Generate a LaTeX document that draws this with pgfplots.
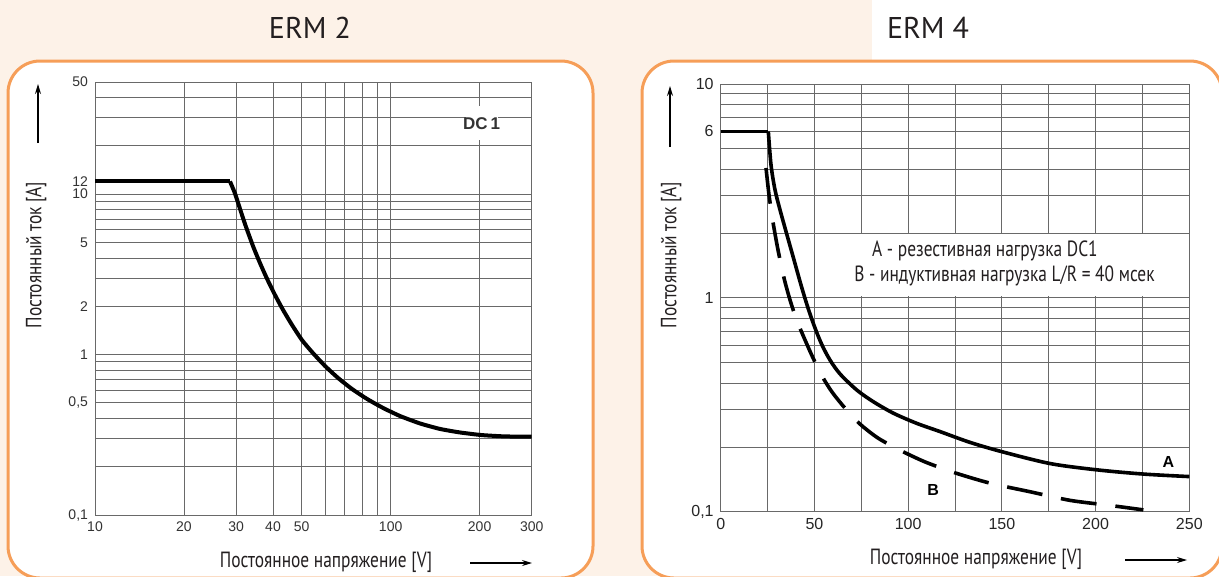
\documentclass[border=0pt]{standalone}
\usepackage{fontspec}
\setmainfont{Liberation Sans}
\newfontfamily\cond[FakeStretch=0.79]{PT Sans}
\newfontfamily\ptsans{PT Sans}
\usepackage{pgfplots}
\pgfplotsset{compat=1.18}
\usetikzlibrary{arrows.meta}
\definecolor{peach}{RGB}{253,242,232}
\definecolor{frameor}{RGB}{246,158,88}
\definecolor{gridc}{RGB}{105,105,105}
\definecolor{txt}{RGB}{35,31,32}

\pgfplotstableread{
x y
28.62 12
29.75 10.1
30.94 8.09
32.42 6.25
34.32 4.69
36.15 3.72
38.09 3.00
40.64 2.35
43.25 1.90
46.39 1.53
50.15 1.23
54.65 1.02
60.00 0.849
66.39 0.715
74.04 0.610
83.22 0.529
94.26 0.465
107.6 0.414
125.8 0.372
146.9 0.344
171.7 0.327
203.3 0.315
243.8 0.309
300 0.308
}\ermtwo

\pgfplotstableread{
x y
25.4 6
26.84 4.18
28.97 3.20
31.64 2.58
35.21 1.99
39.11 1.504
42.84 1.149
46.57 0.897
50.31 0.723
54.04 0.602
58.31 0.512
63.64 0.441
72.56 0.371
81.41 0.327
92.08 0.289
104.57 0.259
117.0 0.237
133.0 0.211
149.9 0.191
175.7 0.168
200.6 0.157
225.5 0.150
250 0.146
}\ermA

\pgfplotstableread{
x y
24.17 4.05
25.77 3.03
27.90 2.26
30.57 1.675
33.77 1.239
36.97 0.978
40.71 0.780
44.97 0.636
49.24 0.524
54.04 0.431
59.38 0.363
66.32 0.305
74.32 0.257
83.92 0.221
95.66 0.194
109.0 0.171
125.0 0.152
143.7 0.136
165.0 0.124
186.4 0.113
207.7 0.107
225.5 0.102
}\ermB

\pgfplotsset{
  ermstyle/.style={
    scale only axis,
    grid=major,
    major grid style={gridc, line width=0.45pt},
    axis line style={gridc, line width=0.5pt},
    major tick length=0pt,
    minor tick length=0pt,
    tick style={draw=none},
  }
}

\begin{document}
\begin{tikzpicture}
\begin{scope}[x=0.5pt,y=-0.5pt]
\path[use as bounding box] (0,0) rectangle (1219,576);
\clip (0,0) rectangle (1219,576);
\fill[white] (0,0) rectangle (1219,576);
\fill[peach] (0,0) rectangle (872,576);
\draw[frameor,line width=1.5pt,fill=white,rounded corners=16pt] (8,61) rectangle (593,578);
\draw[frameor,line width=1.5pt,fill=white,rounded corners=16pt] (642,61) rectangle (1222,578);
\node[font=\ptsans\fontsize{15}{18}\selectfont, text=txt] at (310,28) {ERM 2};
\node[font=\ptsans\fontsize{15}{18}\selectfont, text=txt] at (928,28) {ERM 4};
\end{scope}

% ---------- ERM 2 ----------
\begin{axis}[ermstyle,
  at={(47.5pt,-257.5pt)}, anchor=south west,
  width=218.35pt, height=216.5pt,
  xmode=log, ymode=log,
  xmin=10, xmax=300, ymin=0.1, ymax=50,
  xtick={10,20,30,40,50,60,70,80,90,100,200,300},
  xticklabels={10,20,30,40,50,{},{},{},{},100,200,300},
  ytick={0.1,0.2,0.3,0.4,0.5,0.6,0.7,0.8,0.9,1,2,3,4,5,6,7,8,9,10,20,30,40,50},
  yticklabels={{0,1},{},{},{},{0,5},{},{},{},{},1,2,{},{},5,{},{},{},{},10,{},{},{},50},
  extra y ticks={12}, extra y tick labels={12},
  extra y tick style={grid=none},
  tick label style={font=\fontsize{7}{8}\selectfont, text=black!80},
]
\fill[white] (axis cs:180,21.6) rectangle (axis cs:230,35.3);
\node[font=\bfseries\fontsize{8.5}{10}\selectfont, text=black!80] at (axis cs:203,27.6) {DC\,1};
\addplot[black, line width=2pt] coordinates {(10,12) (28.62,12)};
\addplot[black, line width=2pt, smooth, tension=0.35] table[x=x,y=y] {\ermtwo};
\end{axis}

% ---------- ERM 4 ----------
\begin{axis}[ermstyle,
  at={(360.35pt,-255.85pt)}, anchor=south west,
  width=234.3pt, height=213.85pt,
  ymode=log,
  xmin=0, xmax=250, ymin=0.1, ymax=10,
  xtick={0,25,50,75,100,125,150,175,200,225,250},
  xticklabels={0,{},50,{},100,{},150,{},200,{},250},
  ytick={0.1,0.2,0.3,0.4,0.5,0.6,0.7,0.8,0.9,1,2,3,4,5,6,7,8,9,10},
  yticklabels={{0,1},{},{},{},{},{},{},{},{},1,{},{},{},{},6,{},{},{},10},
  tick label style={font=\fontsize{8}{9}\selectfont, text=black!85},
]
\fill[white] (axis cs:61,1.02) rectangle (axis cs:249.6,1.98);
\node[anchor=base west, font=\cond\fontsize{11}{13}\selectfont, text=txt, inner sep=0pt] at (axis cs:80.6,1.558) {A - резестивная нагрузка DC1};
\node[anchor=base west, font=\cond\fontsize{11}{13}\selectfont, text=txt, inner sep=0pt] at (axis cs:71.1,1.19) {B - индуктивная нагрузка L/R = 40 мсек};
\addplot[black, line width=1.8pt] coordinates {(0,6) (25.4,6)};
\addplot[black, line width=1.8pt, smooth, tension=0.5] table[x=x,y=y] {\ermA};
\addplot[black, line width=1.8pt, smooth, tension=0.45, dash pattern=on 18pt off 9.5pt] table[x=x,y=y] {\ermB};
\node[font=\bfseries\fontsize{8}{9}\selectfont] at (axis cs:238.9,0.171) {A};
\node[font=\bfseries\fontsize{8}{9}\selectfont] at (axis cs:113.4,0.126) {B};
\end{axis}

\begin{scope}[x=0.5pt,y=-0.5pt]
\node[font=\cond\fontsize{11}{13}\selectfont, text=txt] at (326,562) {Постоянное напряжение [V]};
\draw[-{Stealth[length=5pt,width=3pt]}, line width=0.6pt] (470,563) -- (532,563);
\node[rotate=90, font=\cond\fontsize{11}{13}\selectfont, text=txt] at (36,255) {Постоянный ток [A]};
\draw[-{Stealth[length=5pt,width=3pt]}, line width=0.6pt] (38,143) -- (38,84);

\node[font=\cond\fontsize{11}{13}\selectfont, text=txt] at (976,559) {Постоянное напряжение [V]};
\draw[-{Stealth[length=5pt,width=3pt]}, line width=0.6pt] (1125,560) -- (1187,560);
\node[rotate=90, font=\cond\fontsize{11}{13}\selectfont, text=txt] at (671,255) {Постоянный ток [A]};
\draw[-{Stealth[length=5pt,width=3pt]}, line width=0.6pt] (670,147) -- (670,86);
\end{scope}
\end{tikzpicture}
\end{document}
